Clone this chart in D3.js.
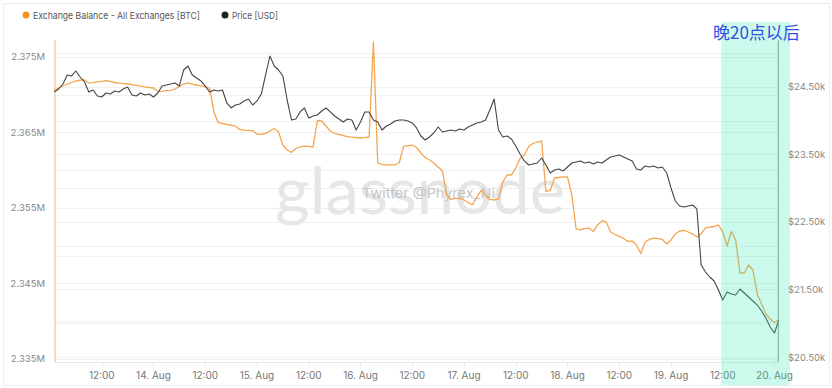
<!DOCTYPE html>
<html>
<head>
<meta charset="utf-8">
<style>
  body { margin: 0; background: #fff; }
  svg { display: block; font-family: "Inter", "Noto Sans", sans-serif; }
</style>
<script src="https://d3js.org/d3.v7.min.js"></script>
</head>
<body>
<script>
// hourly samples, first one at 13 Aug 01:00 UTC
const startTime = Date.UTC(2022, 7, 13, 1);

// Exchange Balance - All Exchanges [BTC], in thousands of BTC
const balance = [
  2370.63, 2370.89, 2371.16, 2371.42, 2371.62, 2371.82, 2371.95, 2371.95, 2371.56, 2371.60,
  2371.69, 2371.76, 2371.86, 2371.76, 2371.62, 2371.53, 2371.48, 2371.42, 2371.33, 2371.24,
  2371.16, 2371.05, 2370.96, 2370.89, 2370.43, 2370.47, 2370.54, 2370.59, 2370.76, 2371.09,
  2371.42, 2371.58, 2371.42, 2371.29, 2371.16, 2371.03, 2370.83, 2367.72, 2366.32, 2366.19,
  2366.06, 2365.97, 2365.82, 2365.40, 2365.30, 2365.28, 2365.24, 2364.80, 2364.74, 2364.89,
  2365.20, 2365.53, 2365.07, 2363.34, 2362.68, 2362.35, 2362.88, 2363.08, 2363.19, 2363.15,
  2363.08, 2366.59, 2366.52, 2365.86, 2365.20, 2364.87, 2364.74, 2364.60, 2364.44, 2364.38,
  2364.32, 2364.27, 2364.32, 2364.40, 2376.99, 2360.96, 2360.76, 2360.70, 2360.70, 2360.70,
  2361.03, 2363.15, 2363.24, 2363.32, 2363.01, 2362.28, 2361.69, 2361.36, 2360.96, 2360.43,
  2359.90, 2356.72, 2356.13, 2356.26, 2356.26, 2356.06, 2355.69, 2355.44, 2356.46, 2357.32,
  2356.59, 2356.13, 2356.06, 2356.19, 2358.44, 2359.37, 2359.37, 2360.30, 2361.56, 2362.02,
  2363.15, 2363.54, 2363.74, 2363.87, 2357.19, 2357.32, 2358.97, 2359.04, 2359.11, 2359.11,
  2356.72, 2352.22, 2352.09, 2352.29, 2352.32, 2351.89, 2352.75, 2353.28, 2353.15, 2351.82,
  2351.49, 2351.23, 2350.96, 2350.56, 2350.63, 2350.10, 2348.97, 2350.50, 2350.83, 2351.00,
  2350.93, 2350.83, 2350.23, 2350.76, 2351.56, 2351.95, 2352.02, 2351.82, 2351.56, 2351.16,
  2351.56, 2352.35, 2352.48, 2352.55, 2352.75, 2351.82, 2349.97, 2351.89, 2350.76, 2346.39,
  2346.39, 2347.45, 2346.79, 2343.61, 2342.28, 2340.96, 2340.30, 2339.83, 2340.17
];

// Price [USD]
const price = [
  24426, 24470, 24544, 24678, 24663, 24737, 24648, 24574, 24426, 24456,
  24367, 24352, 24411, 24396, 24441, 24426, 24470, 24500, 24381, 24367,
  24411, 24381, 24396, 24352, 24411, 24515, 24530, 24544, 24559, 24515,
  24752, 24811, 24678, 24633, 24589, 24515, 24426, 24456, 24441, 24456,
  24263, 24189, 24233, 24248, 24293, 24322, 24233, 24293, 24396, 24678,
  24959, 24811, 24752, 24663, 24307, 24011, 24026, 24130, 24189, 24041,
  24070, 24085, 24144, 24189, 24130, 24070, 24026, 23981, 24026, 24011,
  23863, 23981, 24130, 24130, 24011, 23981, 23863, 23922, 23952, 23996,
  24011, 24011, 23996, 23967, 23893, 23774, 23715, 23759, 23819, 23907,
  23833, 23848, 23863, 23848, 23878, 23863, 23907, 23937, 23967, 23981,
  24011, 24159, 24322, 23863, 23759, 23774, 23730, 23626, 23507, 23404,
  23344, 23359, 23374, 23448, 23344, 23226, 23270, 23285, 23256, 23315,
  23374, 23389, 23404, 23374, 23389, 23359, 23389, 23374, 23419, 23463,
  23478, 23493, 23463, 23433, 23404, 23285, 23270, 23330, 23315, 23330,
  23300, 23315, 23226, 23004, 22811, 22737, 22722, 22737, 22752, 22693,
  21863, 21759, 21685, 21626, 21493, 21344, 21463, 21433, 21419, 21507,
  21448, 21389, 21330, 21270, 21181, 21078, 20944, 20855, 21048
];

const leftTicks = [2335000, 2345000, 2355000, 2365000, 2375000];
const leftGrid = [2335000, 2340000, 2345000, 2350000, 2355000, 2360000, 2365000, 2370000, 2375000];
const rightTicks = [20500, 21500, 22500, 23500, 24500];
const rightGrid = [20500, 21000, 21500, 22000, 22500, 23000, 23500, 24000, 24500, 25000];
const legendLabels = ["Exchange Balance - All Exchanges [BTC]", "Price [USD]"];
const highlightStart = Date.UTC(2022, 7, 19, 11, 40);
const highlightLabel = "晚20点以后";

const W = 832, H = 388;
const plotTop = 40, plotBottom = 362, plotLeft = 54.3, plotRight = 778.8;

const hour = 3600 * 1000;
const balRows = balance.map((v, i) => ({ t: new Date(startTime + i * hour), v: v * 1000 }));
const priceRows = price.map((v, i) => ({ t: new Date(startTime + i * hour), v: v }));

const svg = d3.select("body").append("svg")
  .attr("width", W)
  .attr("height", H);

// cropped red caption above the card, only its lower edge shows
svg.append("text")
  .attr("x", 0).attr("y", -2)
  .attr("font-family", "Noto Sans CJK SC")
  .attr("font-size", 16)
  .attr("fill", "#e8423a")
  .text("这一个数据表明了交易所余额");

// card
svg.append("rect")
  .attr("x", 3.5).attr("y", 3.5)
  .attr("width", 826).attr("height", 382)
  .attr("fill", "#fff")
  .attr("stroke", "#ececec");

const x = d3.scaleUtc()
  .domain([new Date(startTime), new Date(startTime + 168 * hour)])
  .range([plotLeft, plotRight]);

const yL = d3.scaleLinear().domain([2334600, 2377250]).range([plotBottom, plotTop]);
const yR = d3.scaleLinear().domain([20426, 25196]).range([plotBottom, plotTop]);

// grid lines
svg.append("g").selectAll("line")
  .data(leftGrid)
  .join("line")
  .attr("x1", plotLeft).attr("x2", plotRight)
  .attr("y1", d => Math.round(yL(d)) + 0.5)
  .attr("y2", d => Math.round(yL(d)) + 0.5)
  .attr("stroke", "#f0f0f0");

svg.append("g").selectAll("line")
  .data(rightGrid)
  .join("line")
  .attr("x1", plotLeft).attr("x2", plotRight)
  .attr("y1", d => Math.round(yR(d)) + 0.5)
  .attr("y2", d => Math.round(yR(d)) + 0.5)
  .attr("stroke", "#f0f0f0");

// watermark
svg.append("text")
  .attr("x", 275).attr("y", 214)
  .attr("font-family", "Lato, sans-serif")
  .attr("font-size", 66)
  .attr("textLength", 290)
  .attr("lengthAdjust", "spacingAndGlyphs")
  .attr("fill", "#e6e6e6")
  .text("glassnode");

svg.append("text")
  .attr("x", 362).attr("y", 198)
  .attr("font-size", 13)
  .attr("textLength", 133)
  .attr("lengthAdjust", "spacingAndGlyphs")
  .attr("fill", "#c4c4c4")
  .text("Twitter @Phyrex_Ni");

// x axis
const xTicks = d3.utcHour.every(12).range(new Date(startTime), new Date(startTime + 168 * hour));
const xAxis = svg.append("g");
xAxis.append("line")
  .attr("x1", plotLeft).attr("x2", plotRight)
  .attr("y1", plotBottom + 0.5).attr("y2", plotBottom + 0.5)
  .attr("stroke", "#e6e6e6");
xAxis.selectAll("line.tick")
  .data(xTicks)
  .join("line")
  .attr("class", "tick")
  .attr("x1", d => Math.round(x(d)) + 0.5).attr("x2", d => Math.round(x(d)) + 0.5)
  .attr("y1", plotBottom).attr("y2", plotBottom + 5)
  .attr("stroke", "#e6e6e6");
xAxis.selectAll("text")
  .data(xTicks)
  .join("text")
  .attr("x", d => x(d))
  .attr("y", 379)
  .attr("text-anchor", "middle")
  .attr("font-size", 10)
  .attr("fill", "#777")
  .text(d => d.getUTCHours() === 0 ? d.getUTCDate() + ". Aug" : "12:00");

// left axis
svg.append("line")
  .attr("x1", 55).attr("x2", 55)
  .attr("y1", plotTop).attr("y2", plotBottom)
  .attr("stroke", "#f8c48a").attr("stroke-width", 1.2);
svg.append("g").selectAll("text")
  .data(leftTicks)
  .join("text")
  .attr("x", 45)
  .attr("y", d => yL(d) + 3.5)
  .attr("text-anchor", "end")
  .attr("font-size", 9.5)
  .attr("fill", "#888")
  .text(d => (d / 1e6).toFixed(3) + "M");

// right axis
svg.append("g").selectAll("text")
  .data(rightTicks)
  .join("text")
  .attr("x", 788)
  .attr("y", d => yR(d) + 3.5)
  .attr("font-size", 9.5)
  .attr("fill", "#888")
  .text(d => "$" + (d / 1000).toFixed(2) + "k");

// series
const line = (ys) => d3.line().x(d => x(d.t)).y(d => ys(d.v));

svg.append("path")
  .datum(balRows)
  .attr("d", line(yL))
  .attr("fill", "none")
  .attr("stroke", "#f5a550")
  .attr("stroke-width", 1.3)
  .attr("stroke-linejoin", "round");

svg.append("path")
  .datum(priceRows)
  .attr("d", line(yR))
  .attr("fill", "none")
  .attr("stroke", "#444")
  .attr("stroke-width", 1.1)
  .attr("stroke-linejoin", "round");

svg.append("line")
  .attr("x1", plotRight - 0.5).attr("x2", plotRight - 0.5)
  .attr("y1", plotTop).attr("y2", plotBottom)
  .attr("stroke", "#8a9a96");

// highlighted window after 20:00
const hx = x(new Date(highlightStart));
svg.append("rect")
  .attr("x", hx).attr("y", 22)
  .attr("width", 790 - hx).attr("height", 363)
  .attr("fill", "#2ee8b0")
  .attr("opacity", 0.25);

svg.append("text")
  .attr("x", 713).attr("y", 39)
  .attr("font-family", "Noto Sans CJK SC")
  .attr("font-size", 17)
  .attr("fill", "#2d52e6")
  .text(highlightLabel);

// legend
const legendX = [26, 225];
const legendW = [167, 46];
const legend = svg.append("g").selectAll("g")
  .data(legendLabels)
  .join("g")
  .attr("transform", (d, i) => `translate(${legendX[i]},15)`);
legend.append("circle")
  .attr("r", 3.5)
  .attr("fill", (d, i) => i === 0 ? "#f7931a" : "#222");
legend.append("text")
  .attr("x", 7).attr("y", 3.5)
  .attr("font-size", 9.5)
  .attr("textLength", (d, i) => legendW[i])
  .attr("lengthAdjust", "spacingAndGlyphs")
  .attr("fill", "#555")
  .text(d => d);
</script>
</body>
</html>
